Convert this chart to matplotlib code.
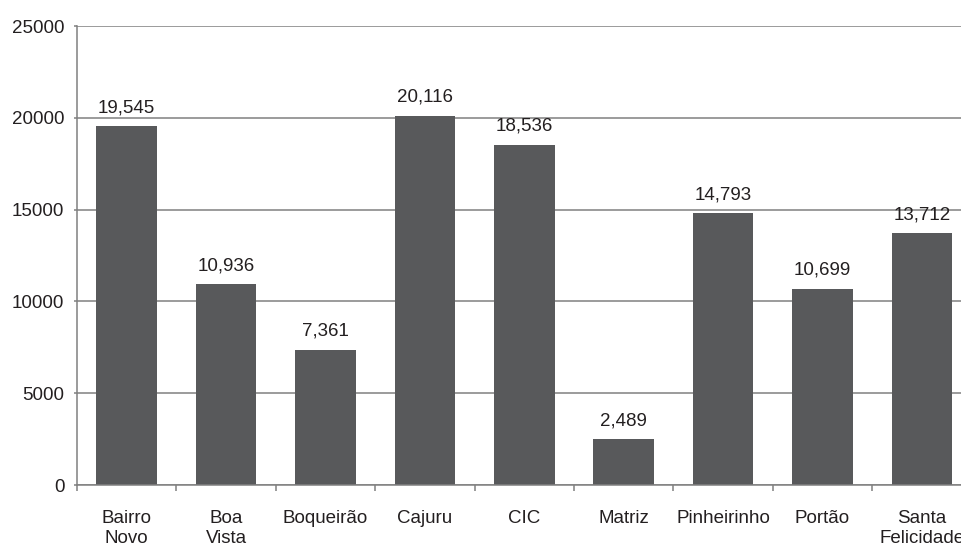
import matplotlib.pyplot as plt

plt.rcParams['font.family'] = ['Liberation Sans', 'DejaVu Sans']

# Dados
categorias = ["Bairro\nNovo", "Boa\nVista", "Boqueirão", "Cajuru", "CIC",
              "Matriz", "Pinheirinho", "Portão", "Santa\nFelicidade"]
valores = [19545, 10936, 7361, 20116, 18536, 2489, 14793, 10699, 13712]
yticks = [0, 5000, 10000, 15000, 20000, 25000]

cor_barra = '#58595b'
cor_linha = '#808080'

fig = plt.figure(figsize=(9.62, 5.43), dpi=100)
ax = fig.add_axes([0.080, 0.1068, 0.930, 0.8453])

x = list(range(len(categorias)))
ax.bar(x, valores, width=0.61, color=cor_barra, zorder=2)

for xi, v in zip(x, valores):
    ax.annotate(f"{v:,}", (xi, v), xytext=(0, 10), textcoords='offset points',
                ha='center', va='baseline', fontsize=13.5, color='#231f20')

ax.set_xlim(-0.5, len(categorias) - 0.5)
ax.set_ylim(0, 25000)
ax.set_yticks(yticks)
ax.set_yticklabels([str(t) for t in yticks])
ax.set_xticks(x)
ax.set_xticklabels(categorias, linespacing=1.25)
ax.set_xticks([i + 0.5 for i in x[:-1]] + [-0.5], minor=True)

ax.tick_params(axis='x', which='major', length=0, pad=18, labelsize=13.5, labelcolor='#231f20')
ax.tick_params(axis='x', which='minor', length=4, width=1.1, color=cor_linha, direction='out')
ax.tick_params(axis='y', length=2, width=1.1, color=cor_linha, pad=7, labelsize=13.5, labelcolor='#231f20')

ax.grid(axis='y', color=cor_linha, linewidth=1.1, zorder=0)
ax.set_axisbelow(True)

for s in ['top', 'right']:
    ax.spines[s].set_visible(False)
for s in ['left', 'bottom']:
    ax.spines[s].set_color(cor_linha)
    ax.spines[s].set_linewidth(1.1)

fig.savefig('out.png', dpi=100)
